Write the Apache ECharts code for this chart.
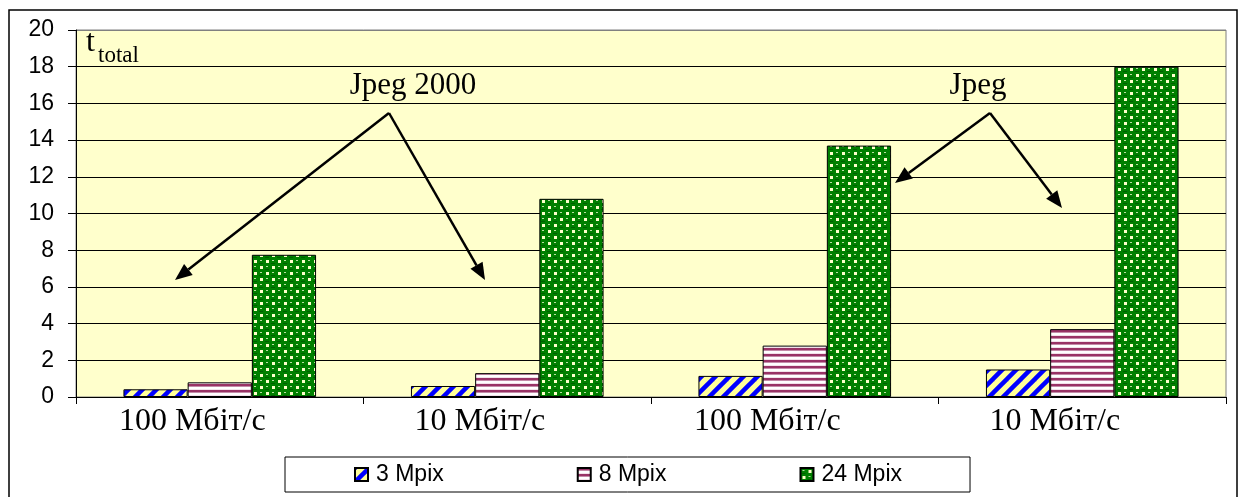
<!DOCTYPE html>
<html>
<head>
<meta charset="utf-8">
<script src="https://cdn.jsdelivr.net/npm/echarts@6/dist/echarts.min.js"></script>
<style>
  html, body { margin: 0; padding: 0; background: #ffffff; }
  #chart { width: 1239px; height: 497px; }
</style>
</head>
<body>
<div id="chart"></div>
<script>
// Transfer time by link speed and image size
const categories = ['100 Мбіт/с', '10 Мбіт/с', '100 Мбіт/с', '10 Мбіт/с'];
const seriesNames = ['3 Mpix', '8 Mpix', '24 Mpix'];
const mpix3 = [0.42, 0.6, 1.15, 1.5];
const mpix8 = [0.8, 1.3, 2.8, 3.7];
const mpix24 = [7.75, 10.8, 13.7, 18.0];
const yTicks = [0, 2, 4, 6, 8, 10, 12, 14, 16, 18, 20];
const groupLabels = ['Jpeg 2000', 'Jpeg'];
const axisTitle = 't';
const axisTitleSub = 'total';

// Fill patterns for the bars
function makeCanvas(w, h) {
  const c = document.createElement('canvas');
  c.width = w; c.height = h;
  return c;
}
function diagonalStripes() {
  const c = makeCanvas(14, 14), g = c.getContext('2d');
  g.fillStyle = '#FFFF99';
  g.fillRect(0, 0, 14, 14);
  g.strokeStyle = '#0000FF';
  g.lineWidth = 4.5;
  for (const o of [-14, 0, 14]) {
    g.beginPath();
    g.moveTo(o - 2, 16);
    g.lineTo(o + 16, -2);
    g.stroke();
  }
  return c;
}
function horizontalStripes() {
  const c = makeCanvas(4, 6), g = c.getContext('2d');
  g.fillStyle = '#FFFFFF';
  g.fillRect(0, 0, 4, 6);
  g.fillStyle = '#993366';
  g.fillRect(0, 0, 4, 2);
  g.fillStyle = '#C48BA8';
  g.fillRect(0, 2, 4, 1);
  g.fillStyle = '#F2E2EA';
  g.fillRect(0, 5, 4, 1);
  return c;
}
function spheres() {
  const c = makeCanvas(12, 12), g = c.getContext('2d');
  g.fillStyle = '#008000';
  g.fillRect(0, 0, 12, 12);
  g.fillStyle = '#FFFFCC';
  g.fillRect(8, 2, 3, 3);
  g.fillRect(2, 8, 3, 3);
  g.fillStyle = '#B8E0A0';
  g.fillRect(2, 2, 2, 1);
  g.fillRect(8, 8, 2, 1);
  g.fillStyle = '#006000';
  g.fillRect(1, 5, 4, 1);
  g.fillRect(7, 11, 4, 1);
  return c;
}
const fills = [
  { image: diagonalStripes(), repeat: 'repeat' },
  { image: horizontalStripes(), repeat: 'repeat' },
  { image: spheres(), repeat: 'repeat' }
];

// Annotation arrow: shaft plus filled head
function arrow(x1, y1, x2, y2) {
  const a = Math.atan2(y2 - y1, x2 - x1);
  const L = 17, W = 7;
  const bx = x2 - L * Math.cos(a), by = y2 - L * Math.sin(a);
  return [
    { type: 'line', z: 100, silent: true,
      shape: { x1: x1, y1: y1, x2: bx, y2: by },
      style: { stroke: '#000', lineWidth: 2.5 } },
    { type: 'polygon', z: 100, silent: true,
      shape: { points: [[x2, y2],
        [bx + W * Math.sin(a), by - W * Math.cos(a)],
        [bx - W * Math.sin(a), by + W * Math.cos(a)]] },
      style: { fill: '#000' } }
  ];
}

const serif = '"Liberation Serif", "Times New Roman", serif';
const sans = '"Liberation Sans", Arial, sans-serif';

const chart = echarts.init(document.getElementById('chart'), null, { renderer: 'canvas' });

const gridColors = yTicks.map((v, i) => (i === yTicks.length - 1 ? '#808080' : '#000000'));

const series = [mpix3, mpix8, mpix24].map((vals, i) => ({
  name: seriesNames[i],
  type: 'bar',
  data: vals,
  barGap: '0%',
  barCategoryGap: '33%',
  itemStyle: { color: fills[i], borderColor: '#000', borderWidth: 1 },
  emphasis: { disabled: true },
  animation: false
}));

chart.setOption({
  animation: false,
  backgroundColor: '#ffffff',
  grid: {
    left: 76, right: 13, top: 30, bottom: 100,
    show: true, backgroundColor: '#FFFFCC', borderColor: '#808080', borderWidth: 1
  },
  legend: {
    data: seriesNames,
    left: 285, top: 457,
    padding: [6, 68, 6, 69],
    itemGap: 133,
    itemWidth: 13, itemHeight: 13,
    icon: 'rect',
    borderColor: '#000', borderWidth: 1,
    textStyle: { fontFamily: sans, fontSize: 23, color: '#000', padding: [0, 0, 0, 3] }
  },
  xAxis: {
    type: 'category',
    data: categories,
    axisLine: { lineStyle: { color: '#000', width: 1 } },
    axisTick: { show: true, length: 7, lineStyle: { color: '#000' } },
    axisLabel: { fontFamily: serif, fontSize: 32, color: '#000', margin: 9, padding: [0, 55, 0, 0] },
    splitLine: { show: false }
  },
  yAxis: {
    type: 'value',
    min: yTicks[0], max: yTicks[yTicks.length - 1], interval: 2,
    axisLine: { show: true, lineStyle: { color: '#000', width: 1 } },
    axisTick: { show: true, length: 8, lineStyle: { color: '#000' } },
    axisLabel: { fontFamily: sans, fontSize: 23, color: '#000', margin: 22 },
    splitLine: { show: true, lineStyle: { color: gridColors, width: 1.2 } }
  },
  series: series,
  graphic: [
    { type: 'rect', silent: true, z: 90,
      shape: { x: 9, y: 10, width: 1228, height: 520 },
      style: { fill: null, stroke: '#000', lineWidth: 1.5 } },
    { type: 'text', z: 100, silent: true, x: 86, y: 27,
      style: { text: axisTitle, font: '32px ' + serif, fill: '#000', verticalAlign: 'top' } },
    { type: 'text', z: 100, silent: true, x: 98, y: 44,
      style: { text: axisTitleSub, font: '23px ' + serif, fill: '#000', verticalAlign: 'top' } },
    { type: 'text', z: 100, silent: true, x: 413, y: 70,
      style: { text: groupLabels[0], font: '31px ' + serif, fill: '#000', align: 'center', verticalAlign: 'top' } },
    { type: 'text', z: 100, silent: true, x: 978, y: 70,
      style: { text: groupLabels[1], font: '31px ' + serif, fill: '#000', align: 'center', verticalAlign: 'top' } },
    ...arrow(389, 113, 175, 280),
    ...arrow(389, 113, 485, 280),
    ...arrow(990, 113, 895, 183),
    ...arrow(990, 113, 1062, 208)
  ]
});
</script>
</body>
</html>
